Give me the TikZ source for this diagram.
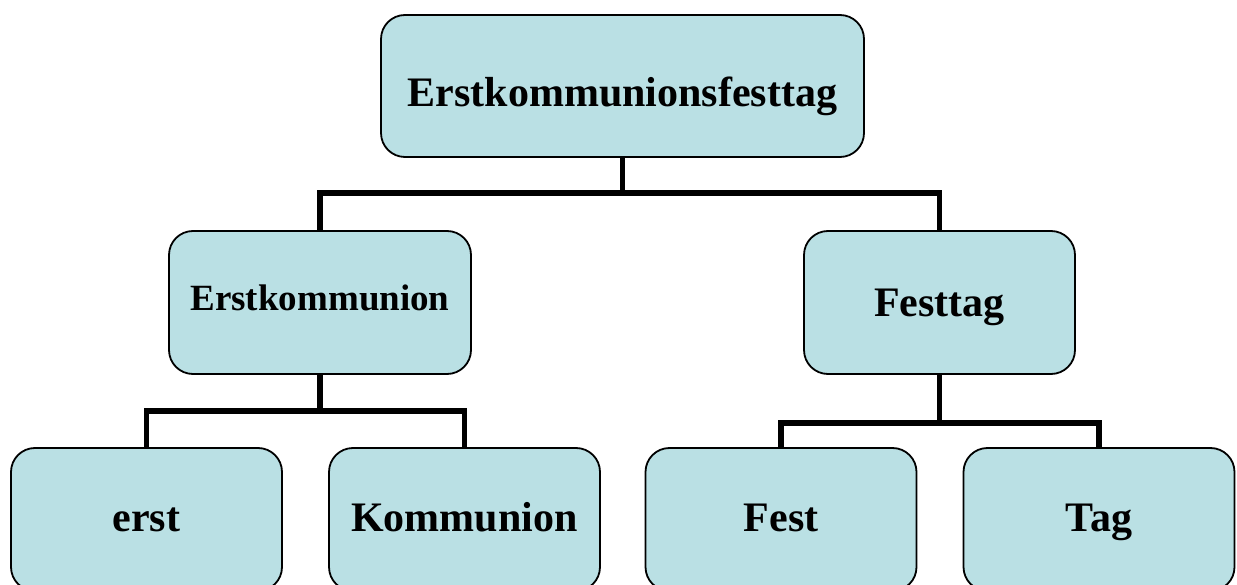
\documentclass[tikz,border=0pt]{standalone}
\usepackage{fontspec}
\setmainfont{Liberation Serif}
\definecolor{boxfill}{RGB}{186,224,228}
\begin{document}
\begin{tikzpicture}[x=1pt,y=-1pt,
  box/.style={draw=black, line width=1.8pt, fill=boxfill, rounded corners=24pt,
    inner sep=0pt, outer sep=0pt, align=center, text depth=0pt,
    font=\bfseries\fontsize{42}{48}\selectfont},
  conn/.style={draw=black, line width=5.5pt}]
\useasboundingbox (0,0) rectangle (1237,585);
\node[box, minimum width=483pt, minimum height=142pt, text height=42pt] (root) at (622.5,86) {Erstkommunionsfesttag};
\node[box, minimum width=302pt, minimum height=143pt, text height=17pt, font=\bfseries\fontsize{37}{44}\selectfont] (ek) at (320,302.5) {Erstkommunion};
\node[box, minimum width=271pt, minimum height=143pt, text height=29pt] (ft) at (939.5,302.5) {Festtag};
\node[box, minimum width=271pt, minimum height=143pt, text height=23pt] (erst) at (146.5,519.5) {erst};
\node[box, minimum width=271pt, minimum height=143pt, text height=23pt] (komm) at (464.5,519.5) {Kommunion};
\node[box, minimum width=271pt, minimum height=143pt, text height=23pt] (fest) at (781,519.5) {Fest};
\node[box, minimum width=271pt, minimum height=143pt, text height=23pt] (tag) at (1099,519.5) {Tag};
\draw[conn] (root.south) -- ++(0,36) -| (ek.north);
\draw[conn] (root.south) -- ++(0,36) -| (ft.north);
\draw[conn] (ek.south) -- ++(0,37) -| (erst.north);
\draw[conn] (ek.south) -- ++(0,37) -| (komm.north);
\draw[conn] (ft.south) -- ++(0,49) -| (fest.north);
\draw[conn] (ft.south) -- ++(0,49) -| (tag.north);
\end{tikzpicture}
\end{document}
